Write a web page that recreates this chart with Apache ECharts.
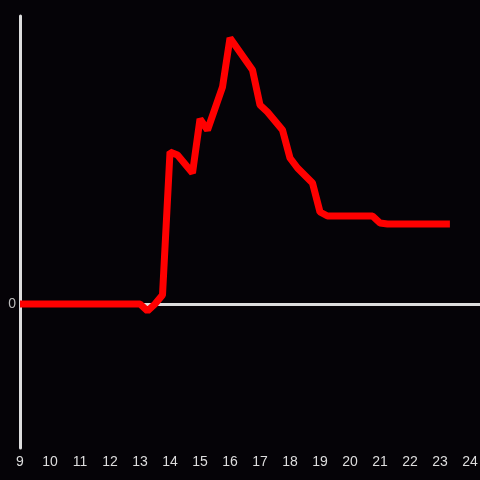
<!DOCTYPE html>
<html>
<head>
<meta charset="utf-8">
<script src="https://cdn.jsdelivr.net/npm/echarts@6/dist/echarts.min.js"></script>
<style>
html,body{margin:0;padding:0;background:#050307;}
#chart{width:480px;height:480px;}
</style>
</head>
<body>
<div id="chart"></div>
<script>
// hour of day
var hours = [9, 13, 13.25, 13.5, 13.75, 14, 14.25, 14.75, 15, 15.25, 15.75, 16, 16.75, 17, 17.25, 17.75, 18, 18.25, 18.75, 19, 19.25, 20.75, 21, 21.25, 23.33];
// values (arbitrary units)
var values = [0, 0, -7, 0, 9, 152, 149, 131, 185, 174, 217, 266, 234, 199, 192, 174, 146, 136, 121, 92, 88, 88, 81, 80, 80];
var xTicks = [9,10,11,12,13,14,15,16,17,18,19,20,21,22,23,24];

var pts = hours.map(function(h, i){ return [h, values[i]]; });

var chart = echarts.init(document.getElementById('chart'));
chart.setOption({
  backgroundColor: '#050307',
  animation: false,
  grid: {left: 20, right: 0, top: 16, bottom: 32, containLabel: false, outerBoundsMode: 'none'},
  xAxis: {
    type: 'value', min: 9, max: 24.3333, interval: 1,
    axisLine: {show: false, onZero: false},
    axisTick: {show: false},
    splitLine: {show: false},
    axisLabel: {
      color: '#dddddd', fontSize: 14, fontFamily: 'Liberation Sans', margin: 7,
      formatter: function(v){ return xTicks.indexOf(Math.round(v*1000)/1000) >= 0 ? String(v) : ''; }
    }
  },
  yAxis: {
    type: 'value', min: -144, max: 288, interval: 144,
    axisLine: {show: true, lineStyle: {color: '#dddddd', width: 3}},
    axisTick: {show: false},
    splitLine: {show: false},
    axisLabel: {
      color: '#bbbbbb', fontSize: 14, fontFamily: 'Liberation Sans', margin: 4,
      formatter: function(v){ return v === 0 ? '0' : ''; }
    }
  },
  series: [{
    type: 'line',
    data: pts,
    showSymbol: false,
    lineStyle: {color: '#ff0000', width: 7},
    z: 3,
    markLine: {
      silent: true, symbol: 'none', label: {show: false},
      lineStyle: {color: '#dddddd', width: 3, type: 'solid'},
      data: [{yAxis: 0}],
      z: 2
    }
  }]
});
</script>
</body>
</html>
